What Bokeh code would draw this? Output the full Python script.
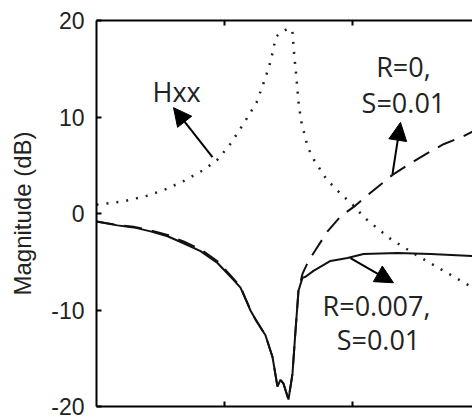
from bokeh.plotting import figure
from bokeh.models import Range1d, LinearAxis, FixedTicker, Arrow, NormalHead
from bokeh.core.properties import value
from bokeh.embed import file_html
from bokeh.resources import INLINE

# ---- data ----
hxx_x = [0.0, 0.2, 0.4, 0.55, 0.7, 0.85, 0.95, 1.05, 1.15, 1.25, 1.3, 1.35, 1.38, 1.40, 1.43, 1.47, 1.5,
         1.53, 1.545, 1.56, 1.58, 1.6, 1.65, 1.7, 1.8, 1.9, 2.0, 2.1, 2.3, 2.5, 2.7, 2.94]
hxx_y = [0.92, 1.23, 1.85, 2.56, 3.49, 4.62, 5.64, 7.28, 9.33, 11.49, 13.33, 15.28, 16.9, 18.26, 18.67, 18.97, 19.18,
         18.97, 16.4, 14.36, 11.28, 9.54, 6.87, 5.54, 3.49, 2.15, 0.92, -0.51, -2.67, -4.31, -5.85, -7.69]

r7_x = [0.0, 0.164, 0.289, 0.422, 0.555, 0.680, 0.813, 0.945, 1.070, 1.125, 1.203, 1.242, 1.320, 1.375, 1.414,
        1.4375, 1.461, 1.5, 1.531, 1.555, 1.578, 1.609, 1.633, 1.695, 1.828, 1.961, 2.086, 2.35, 2.61, 2.94]
r7_y = [-0.82, -1.23, -1.44, -1.85, -2.36, -3.08, -3.90, -5.13, -6.87, -7.69, -10.05, -10.97, -12.62, -14.87, -17.95,
        -17.23, -17.64, -19.28, -16.62, -12.10, -8.0, -6.67, -6.56, -5.95, -4.92, -4.62, -4.2, -4.1, -4.2, -4.4]

r0_x = [0.0, 0.164, 0.289, 0.422, 0.555, 0.680, 0.813, 0.945, 1.070, 1.125, 1.203, 1.242, 1.320, 1.375, 1.414,
        1.4375, 1.461, 1.5, 1.531, 1.555, 1.578, 1.609, 1.656, 1.711, 1.805, 1.906, 2.023, 2.141, 2.3125, 2.469,
        2.586, 2.711, 2.867, 2.94]
r0_y = [-0.82, -1.2, -1.38, -1.75, -2.22, -2.9, -3.7, -4.95, -6.75, -7.6, -10.0, -10.97, -12.62, -14.87, -17.95,
        -17.23, -17.64, -19.28, -16.62, -12.10, -8.0, -6.26, -4.92, -3.79, -1.85, -0.31, 0.82, 2.15, 4.0, 5.33,
        6.26, 7.18, 8.0, 8.5]

y_ticks = [-20, -10, 0, 10, 20]
y_tick_labels = ["-20", "-10", "0", "10", "20"]
x_ticks = [1, 2]
x_blank = {1: "", 2: ""}

FONT_AX = "Liberation Sans"
FONT_TX = "Open Sans"

p = figure(width=472, height=419, output_backend="svg", toolbar_location=None,
           x_range=Range1d(0, 2.9375), y_range=Range1d(-20, 20),
           min_border_left=96, min_border_right=0, min_border_top=20, min_border_bottom=13,
           background_fill_color="white", border_fill_color="white")
p.outline_line_color = None
p.xgrid.visible = False
p.ygrid.visible = False

# left axis
ya = p.yaxis[0]
ya.ticker = FixedTicker(ticks=y_ticks)
ya.major_label_overrides = dict(zip(y_ticks, y_tick_labels))
ya.major_tick_in = 5
ya.major_tick_out = 0
ya.minor_tick_line_color = None
ya.axis_line_width = 2
ya.major_tick_line_width = 2
ya.major_label_text_font = FONT_AX
ya.major_label_text_font_size = "23px"
ya.major_label_text_color = "#222"
ya.major_label_standoff = 12
ya.axis_label = "Magnitude (dB)"
ya.axis_label_text_font = FONT_AX
ya.axis_label_text_font_size = "24px"
ya.axis_label_text_font_style = "normal"
ya.axis_label_text_color = "#222"
ya.axis_label_standoff = 12

# bottom axis
xa = p.xaxis[0]
xa.ticker = FixedTicker(ticks=x_ticks)
xa.major_label_overrides = x_blank
xa.major_tick_in = 5
xa.major_tick_out = 0
xa.minor_tick_line_color = None
xa.axis_line_width = 2
xa.major_tick_line_width = 2
xa.major_label_text_font_size = "2px"
xa.major_label_standoff = 0

# top axis
ta = LinearAxis(ticker=FixedTicker(ticks=x_ticks), major_label_overrides=x_blank,
                major_tick_in=5, major_tick_out=0,
                minor_tick_line_color=None, axis_line_width=2, major_tick_line_width=2,
                major_label_text_font_size="2px", major_label_standoff=0)
p.add_layout(ta, "above")

# curves
p.line(hxx_x, hxx_y, line_color="#222", line_width=2.5, line_dash="2 8")
p.line(r0_x, r0_y, line_color="#111", line_width=2, line_dash="18 10")
p.line(r7_x, r7_y, line_color="#111", line_width=2)

# texts
p.text(x=[0.4375], y=[12.6], text=["Hxx"], text_font=value(FONT_TX), text_font_size="27px",
       text_align="left", text_baseline="alphabetic", text_color="#222")
p.text(x=[2.398, 2.398], y=[15.2, 11.5], text=["R=0,", "S=0.01"], text_font=value(FONT_TX),
       text_font_size="27px", text_align="center", text_baseline="alphabetic", text_color="#222")
p.text(x=[2.1875, 2.203], y=[-9.5, -13.1], text=["R=0.007,", "S=0.01"], text_font=value(FONT_TX),
       text_font_size="27px", text_align="center", text_baseline="alphabetic", text_color="#222")

# arrows
for (x0, y0, x1, y1) in [(0.906, 5.85, 0.6016, 10.97), (2.3125, 4.10, 2.375, 9.44), (1.984, -4.62, 2.320, -7.18)]:
    p.add_layout(Arrow(x_start=x0, y_start=y0, x_end=x1, y_end=y1, line_width=2, line_color="black",
                       end=NormalHead(size=18, fill_color="black", line_color="black")))

open("out.html", "w").write(file_html(p, INLINE))
